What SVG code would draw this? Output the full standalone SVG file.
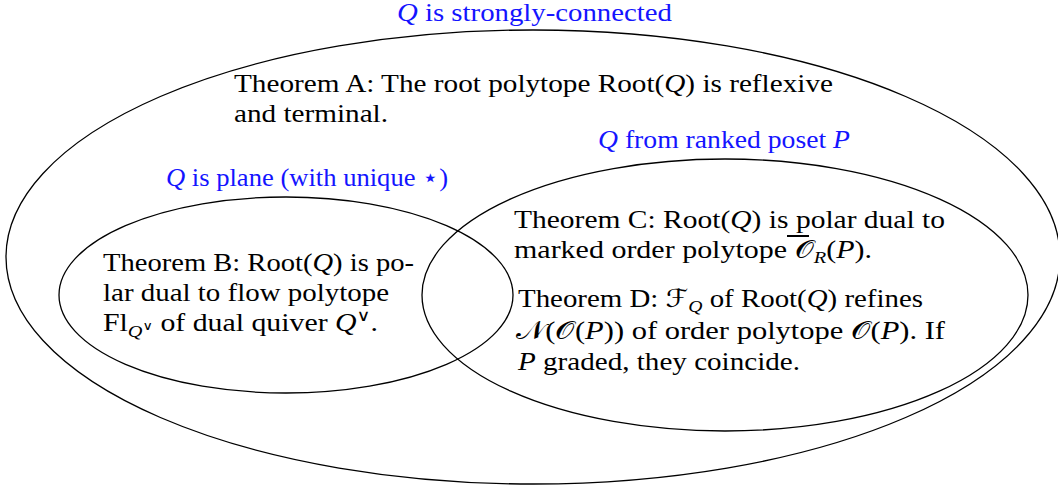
<svg xmlns="http://www.w3.org/2000/svg" width="1058" height="485" viewBox="0 0 1058 485">
  <style>
    .set { fill: none; stroke: #000; stroke-width: 1.3; }
    .txt { font-family: "Liberation Serif", "DejaVu Serif", serif; font-size: 25px; fill: #000; }
    .lbl { font-family: "Liberation Serif", "DejaVu Serif", serif; font-size: 25px; fill: #1414ff; }
    .it { font-style: italic; }
    .cal { font-family: "DejaVu Serif", "DejaVu Sans", "Noto Sans", serif; }
    .bar { stroke: #000; stroke-width: 2; }
  </style>
  <rect width="1058" height="485" fill="#fff"/>
  <g id="strongly-connected">
    <ellipse class="set" cx="533" cy="257" rx="527" ry="227"/>
    <text class="lbl" x="397" y="21" textLength="275" lengthAdjust="spacingAndGlyphs"><tspan class="it">Q</tspan> is strongly-connected</text>
    <text class="txt" x="234" y="92" textLength="599" lengthAdjust="spacingAndGlyphs">Theorem A: The root polytope Root(<tspan class="it">Q</tspan>) is reflexive</text>
    <text class="txt" x="234" y="122" textLength="154" lengthAdjust="spacingAndGlyphs">and terminal.</text>
  </g>
  <g id="plane">
    <ellipse class="set" cx="286" cy="295" rx="227" ry="98"/>
    <text class="lbl" x="166" y="186" textLength="282" lengthAdjust="spacingAndGlyphs"><tspan class="it">Q</tspan> is plane (with unique ⋆)</text>
    <text class="txt" x="103" y="271" textLength="311" lengthAdjust="spacingAndGlyphs">Theorem B: Root(<tspan class="it">Q</tspan>) is po-</text>
    <text class="txt" x="103" y="301" textLength="286" lengthAdjust="spacingAndGlyphs">lar dual to flow polytope</text>
    <text class="txt" x="103" y="331" textLength="275" lengthAdjust="spacingAndGlyphs">Fl<tspan class="it" font-size="17" dy="6">Q</tspan><tspan font-size="12" dy="-7">∨</tspan><tspan dy="1"> of dual quiver </tspan><tspan class="it">Q</tspan><tspan font-size="16" dy="-10">∨</tspan><tspan dy="10">.</tspan></text>
  </g>
  <g id="ranked-poset">
    <ellipse class="set" cx="725" cy="295" rx="303" ry="136"/>
    <text class="lbl" x="598" y="148" textLength="252" lengthAdjust="spacingAndGlyphs"><tspan class="it">Q</tspan> from ranked poset <tspan class="it">P</tspan></text>
    <text class="txt" x="514" y="228" textLength="431" lengthAdjust="spacingAndGlyphs">Theorem C: Root(<tspan class="it">Q</tspan>) is polar dual to</text>
    <text class="txt" x="514" y="258" textLength="358" lengthAdjust="spacingAndGlyphs">marked order polytope <tspan class="cal">𝒪</tspan><tspan class="it" font-size="17" dy="5">R</tspan><tspan dy="-5">(</tspan><tspan class="it">P</tspan>).</text>
    <line class="bar" x1="787" y1="236" x2="809" y2="236"/>
    <text class="txt" x="518" y="307" textLength="405" lengthAdjust="spacingAndGlyphs">Theorem D: <tspan class="cal">ℱ</tspan><tspan class="it" font-size="17" dy="5">Q</tspan><tspan dy="-5"> of Root(</tspan><tspan class="it">Q</tspan>) refines</text>
    <text class="txt" x="516" y="339" textLength="429" lengthAdjust="spacingAndGlyphs"><tspan class="cal">𝒩</tspan>(<tspan class="cal">𝒪</tspan>(<tspan class="it">P</tspan>)) of order polytope <tspan class="cal">𝒪</tspan>(<tspan class="it">P</tspan>).  If</text>
    <text class="txt" x="518" y="370" textLength="282" lengthAdjust="spacingAndGlyphs"><tspan class="it">P</tspan> graded, they coincide.</text>
  </g>
  <g id="connectors"/>
</svg>
